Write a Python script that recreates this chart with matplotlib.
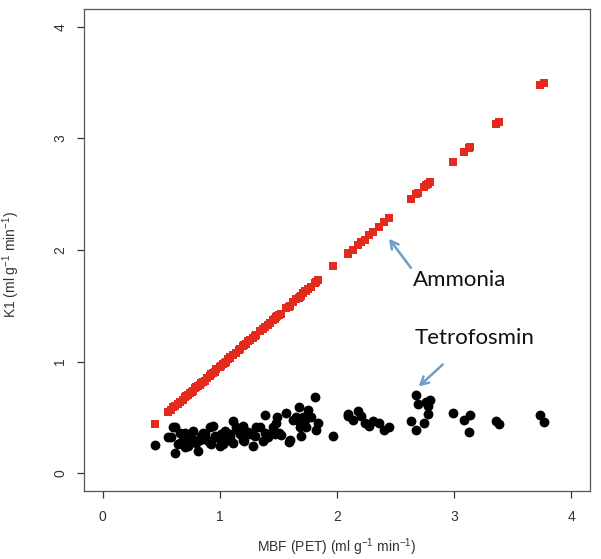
import matplotlib
matplotlib.use("Agg")
import matplotlib.pyplot as plt

plt.rcParams['font.family'] = ['Liberation Sans', 'DejaVu Sans']
plt.rcParams['mathtext.fontset'] = 'custom'
plt.rcParams['mathtext.rm'] = 'Liberation Sans'
plt.rcParams['mathtext.it'] = 'Liberation Sans:italic'

# MBF by PET, one value per subject (shared by both tracers)
mbf = [0.443, 0.557, 0.586, 0.60, 0.614, 0.614, 0.642, 0.657, 0.657, 0.685,
       0.70, 0.699, 0.713, 0.728, 0.742, 0.770, 0.785, 0.799, 0.813, 0.827,
       0.856, 0.87, 0.913, 0.913, 0.927, 0.941, 0.955, 0.97, 0.998, 1.01,
       1.026, 1.04, 1.055, 1.069, 1.083, 1.111, 1.111, 1.14, 1.168, 1.197,
       1.197, 1.21, 1.226, 1.254, 1.282, 1.311, 1.339, 1.367, 1.382, 1.382,
       1.41, 1.424, 1.453, 1.467, 1.481, 1.49, 1.501, 1.52, 1.566, 1.586,
       1.595, 1.623, 1.652, 1.672, 1.68, 1.68, 1.694, 1.709, 1.729, 1.737,
       1.751, 1.78, 1.814, 1.822, 1.836, 1.964, 2.09, 2.092, 2.135, 2.177,
       2.206, 2.235, 2.277, 2.305, 2.362, 2.405, 2.448, 2.633, 2.675, 2.675,
       2.689, 2.746, 2.76, 2.775, 2.775, 2.797, 2.988, 3.087, 3.124, 3.136,
       3.358, 3.38, 3.735, 3.764,
       0.76, 0.84, 0.89, 1.00, 1.09, 1.16, 1.24, 1.30]

k1_ammonia = [0.44, 0.55, 0.57, 0.59, 0.60, 0.60, 0.62, 0.64, 0.64, 0.66,
              0.68, 0.68, 0.69, 0.70, 0.72, 0.74, 0.76, 0.77, 0.78, 0.79,
              0.82, 0.83, 0.87, 0.87, 0.89, 0.90, 0.91, 0.93, 0.95, 0.96,
              0.98, 0.99, 1.00, 1.02, 1.03, 1.06, 1.06, 1.08, 1.11, 1.14,
              1.14, 1.15, 1.16, 1.19, 1.21, 1.24, 1.27, 1.29, 1.31, 1.31,
              1.33, 1.35, 1.37, 1.38, 1.40, 1.41, 1.42, 1.43, 1.48, 1.49,
              1.50, 1.53, 1.56, 1.57, 1.58, 1.58, 1.59, 1.61, 1.63, 1.63,
              1.65, 1.67, 1.70, 1.71, 1.73, 1.86, 1.96, 1.97, 2.00, 2.04,
              2.07, 2.09, 2.13, 2.16, 2.21, 2.25, 2.29, 2.46, 2.50, 2.50,
              2.51, 2.56, 2.58, 2.59, 2.59, 2.61, 2.79, 2.88, 2.91, 2.92,
              3.13, 3.15, 3.48, 3.50,
              0.73, 0.81, 0.85, 0.95, 1.04, 1.10, 1.18, 1.23]

k1_tetrofosmin = [0.25, 0.32, 0.32, 0.41, 0.18, 0.41, 0.26, 0.36, 0.27, 0.30,
                  0.36, 0.23, 0.24, 0.24, 0.33, 0.38, 0.29, 0.27, 0.20, 0.30,
                  0.36, 0.35, 0.27, 0.41, 0.26, 0.42, 0.33, 0.32, 0.24, 0.35,
                  0.26, 0.38, 0.36, 0.30, 0.35, 0.47, 0.27, 0.41, 0.35, 0.42,
                  0.30, 0.29, 0.35, 0.35, 0.24, 0.41, 0.41, 0.29, 0.52, 0.36,
                  0.32, 0.35, 0.41, 0.35, 0.45, 0.50, 0.36, 0.34, 0.54, 0.28,
                  0.30, 0.48, 0.50, 0.59, 0.45, 0.41, 0.33, 0.50, 0.48, 0.41,
                  0.57, 0.50, 0.68, 0.39, 0.45, 0.33, 0.51, 0.53, 0.48, 0.56,
                  0.51, 0.45, 0.42, 0.47, 0.45, 0.39, 0.41, 0.47, 0.70, 0.39,
                  0.62, 0.45, 0.64, 0.60, 0.53, 0.66, 0.54, 0.48, 0.37, 0.52,
                  0.47, 0.44, 0.52, 0.46,
                  0.31, 0.33, 0.30, 0.31, 0.32, 0.38, 0.37, 0.33]

ticks = [0, 1, 2, 3, 4]

fig = plt.figure(figsize=(6.01, 5.59), dpi=100)
ax = fig.add_axes([0.1398, 0.1216, 0.8419, 0.8625])

ax.scatter(mbf, k1_tetrofosmin, s=50, marker='o', color='black', linewidths=0, zorder=2)
ax.scatter(mbf, k1_ammonia, s=30, marker='s', color='#e42a1d', linewidths=0, zorder=3)

ax.set_xlim(-0.16, 4.16)
ax.set_ylim(-0.16, 4.16)
ax.set_xticks(ticks)
ax.set_yticks(ticks)
ax.tick_params(direction='out', length=5, width=0.9, color='#333333',
               labelsize=10, labelcolor='#333333')
ax.tick_params(axis='x', pad=9)
ax.tick_params(axis='y', pad=7)
for lab in ax.get_yticklabels():
    lab.set_rotation(90)
    lab.set_va('center')
for sp in ax.spines.values():
    sp.set_linewidth(0.9)
    sp.set_color('#555555')

ax.set_xlabel('MBF (PET) (ml g$^{-1}$ min$^{-1}$)', fontsize=10, color='#333333')
ax.set_ylabel('K1 (ml g$^{-1}$ min$^{-1}$)', fontsize=10, color='#333333')
ax.xaxis.set_label_coords(0.5, -0.095)
ax.yaxis.set_label_coords(-0.122, 0.47)

arrow = dict(arrowstyle='->,head_length=0.55,head_width=0.3', color='#6f9cc9', lw=1.8)
ax.annotate('', xy=(2.43, 2.12), xytext=(2.645, 1.82), arrowprops=arrow)
ax.annotate('', xy=(2.68, 0.76), xytext=(2.92, 0.99), arrowprops=arrow)
ax.text(2.645, 1.68, 'Ammonia', family=['Lato', 'DejaVu Sans'], fontsize=16,
        color='#111111', ha='left', va='baseline')
ax.text(2.66, 1.155, 'Tetrofosmin', family=['Lato', 'DejaVu Sans'], fontsize=16,
        color='#111111', ha='left', va='baseline')

fig.savefig('out.png', dpi=100)
